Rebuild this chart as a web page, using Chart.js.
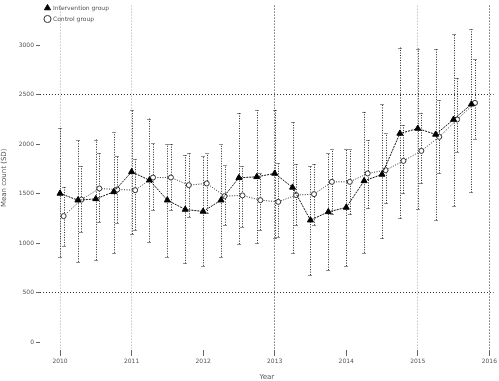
<!DOCTYPE html>
<html>
<head>
<meta charset="utf-8">
<script src="https://cdn.jsdelivr.net/npm/chart.js@4/dist/chart.umd.min.js"></script>
<style>
html,body{margin:0;padding:0;background:#fff;}
#wrap{width:499px;height:381px;}
</style>
</head>
<body>
<div id="wrap"><canvas id="c" width="499" height="381"></canvas></div>
<script>
// Time points (year, quarterly)
const periods = [2010, 2010.25, 2010.5, 2010.75, 2011, 2011.25, 2011.5, 2011.75,
                 2012, 2012.25, 2012.5, 2012.75, 2013, 2013.25, 2013.5, 2013.75,
                 2014, 2014.25, 2014.5, 2014.75, 2015, 2015.25, 2015.5, 2015.75];
const yearTicks = [2010, 2011, 2012, 2013, 2014, 2015, 2016];
const valueTicks = [0, 500, 1000, 1500, 2000, 2500, 3000];

const interventionMean = [1502,1434,1447,1518,1720,1636,1434,1340,1320,1434,1660,1670,
                          1704,1563,1232,1316,1360,1629,1694,2108,2158,2098,2249,2404];
const interventionLow  = [862,811,828,902,1091,1013,862,795,771,862,990,997,
                          1047,896,677,727,768,902,1047,1249,1343,1232,1374,1512];
const interventionHigh = [2168,2047,2047,2118,2343,2259,2000,1889,1879,2000,2316,2343,
                          2350,2225,1778,1906,1956,2326,2404,2976,2966,2966,3117,3160];

const controlMean = [1273,1440,1552,1542,1535,1663,1663,1586,1603,1475,1482,1434,
                     1417,1485,1495,1619,1619,1704,1737,1831,1932,2074,2249,2417];
const controlLow  = [975,1114,1215,1205,1131,1333,1333,1266,1300,1182,1165,1131,
                     1064,1182,1180,1290,1290,1350,1401,1502,1603,1704,1922,2057];
const controlHigh = [1570,1778,1912,1879,1845,2013,2000,1906,1906,1788,1778,1704,
                     1805,1798,1800,1946,1946,2040,2108,2192,2316,2444,2673,2865];

const seriesNames = ['Intervention group', 'Control group'];
const DODGE = 0.05;

const intData = periods.map((p, i) => ({x: p, y: interventionMean[i], lo: interventionLow[i], hi: interventionHigh[i]}));
const ctlData = periods.map((p, i) => ({x: p + DODGE, y: controlMean[i], lo: controlLow[i], hi: controlHigh[i]}));

const errorBars = {
  id: 'errorBars',
  beforeDatasetsDraw(chart) {
    const ctx = chart.ctx;
    const xs = chart.scales.x, ys = chart.scales.y;
    ctx.save();
    ctx.strokeStyle = '#222';
    ctx.lineWidth = 1;
    chart.data.datasets.forEach(ds => {
      ds.data.forEach(d => {
        const px = Math.round(xs.getPixelForValue(d.x)) + 0.5;
        const pl = ys.getPixelForValue(d.lo), ph = ys.getPixelForValue(d.hi);
        ctx.setLineDash([1, 1.5]);
        ctx.beginPath(); ctx.moveTo(px, pl); ctx.lineTo(px, ph); ctx.stroke();
        ctx.setLineDash([1, 1]);
        ctx.beginPath();
        ctx.moveTo(px - 2, Math.round(ph) + 0.5); ctx.lineTo(px + 2, Math.round(ph) + 0.5);
        ctx.moveTo(px - 2, Math.round(pl) + 0.5); ctx.lineTo(px + 2, Math.round(pl) + 0.5);
        ctx.stroke();
      });
    });
    ctx.restore();
  }
};

const xGridColor = v => (v === 2013 || v === 2016) ? '#333' : (v === 2010 || v === 2011 || v === 2015 ? '#aaa' : 'rgba(0,0,0,0)');
const yGridColor = v => (v === 500 || v === 2500) ? '#333' : 'rgba(0,0,0,0)';

new Chart(document.getElementById('c'), {
  type: 'scatter',
  data: {
    datasets: [
      {
        label: seriesNames[0], data: intData, showLine: true,
        borderColor: '#111', borderWidth: 1, borderDash: [2, 1],
        pointStyle: 'triangle', pointRadius: 3.5, pointBackgroundColor: '#000', pointBorderColor: '#000',
        pointBorderWidth: 1
      },
      {
        label: seriesNames[1], data: ctlData, showLine: true,
        borderColor: '#333', borderWidth: 1, borderDash: [1, 1.5],
        pointStyle: 'circle', pointRadius: 2.5, pointBackgroundColor: '#fff', pointBorderColor: '#333',
        pointBorderWidth: 1
      }
    ]
  },
  options: {
    responsive: false, animation: false, devicePixelRatio: 1,
    layout: {padding: {top: 4, right: 2, left: 0, bottom: 0}},
    plugins: {
      legend: {
        position: 'chartArea', align: 'start',
        labels: {
          usePointStyle: true, boxWidth: 5, boxHeight: 5, padding: 5,
          font: {family: 'DejaVu Sans', size: 6}, color: '#555'
        }
      },
      tooltip: {enabled: false}
    },
    scales: {
      x: {
        type: 'linear', min: 2009.72, max: 2016.06,
        afterBuildTicks: s => { s.ticks = yearTicks.map(v => ({value: v})); },
        afterFit: s => { s.height = 31; },
        ticks: {font: {family: 'DejaVu Sans', size: 6}, color: '#555', padding: 2, callback: v => String(v)},
        grid: {drawTicks: true, tickLength: 6, color: c => xGridColor(c.tick && c.tick.value), tickColor: '#666', lineWidth: 1},
        border: {display: false, dash: [1, 2]},
        title: {display: true, text: 'Year', font: {family: 'DejaVu Sans', size: 7}, color: '#555', padding: {top: 0, bottom: 0}}
      },
      y: {
        min: -80, max: 3400,
        afterBuildTicks: s => { s.ticks = valueTicks.map(v => ({value: v})); },
        afterFit: s => { s.width = 40; },
        ticks: {font: {family: 'DejaVu Sans', size: 6}, color: '#555', padding: 2, callback: v => String(v)},
        grid: {drawTicks: true, tickLength: 4, color: c => yGridColor(c.tick && c.tick.value), tickColor: '#666', lineWidth: 1},
        border: {display: false, dash: [1, 2]},
        title: {display: true, text: 'Mean count (SD)', font: {family: 'DejaVu Sans', size: 7}, color: '#555', padding: {top: 0, bottom: 2}}
      }
    }
  },
  plugins: [errorBars]
});
</script>
</body>
</html>
